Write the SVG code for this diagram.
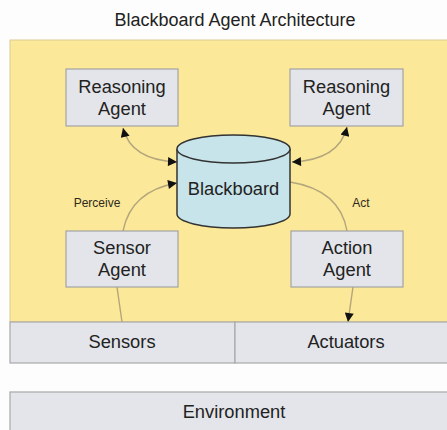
<svg xmlns="http://www.w3.org/2000/svg" width="447" height="430" viewBox="0 0 447 430">
  <style>
    text { font-family: "Liberation Sans", Arial, sans-serif; fill: #222; text-anchor: middle; }
    .lbl { font-size: 18.3px; }
    .small { font-size: 12px; fill: #2e2a1c; }
    .box { fill: #e3e5ea; stroke: #a3a3a3; stroke-width: 1.2; }
    .bar { fill: #e3e5ea; stroke: #a8a8a8; stroke-width: 1.2; }
    .conn { fill: none; stroke: #b3a57c; stroke-width: 1.4; }
    .cyl { fill: #c6e4ea; stroke: #333; stroke-width: 1.5; }
  </style>
  <defs>
    <marker id="ah" viewBox="0 0 10 10" refX="10" refY="5" markerWidth="10" markerHeight="9" markerUnits="userSpaceOnUse" orient="auto-start-reverse">
      <path d="M0,0 L10,5 L0,10 Z" fill="#111"/>
    </marker>
  </defs>
  <rect x="0" y="0" width="447" height="430" fill="#fdfdfd"/>
  <text id="title" x="235" y="26" style="font-size:18px">Blackboard Agent Architecture</text>
  <rect id="agent-area" x="10" y="40" width="440" height="282" fill="#fbe898" stroke="#d9cc93" stroke-width="1"/>

  <g id="connectors">
    <path class="conn" d="M123,128 Q131,160 177,162" marker-start="url(#ah)" marker-end="url(#ah)"/>
    <path class="conn" d="M347,127 Q339,160 292,162" marker-start="url(#ah)" marker-end="url(#ah)"/>
    <path class="conn" d="M123,231 Q131,191 177,183" marker-end="url(#ah)"/>
    <path class="conn" d="M122,322 L117,287"/>
    <path class="conn" d="M290,182 Q340,190 347,231"/>
    <path class="conn" d="M353,287 L348,322" marker-end="url(#ah)"/>
  </g>

  <g id="reasoning-agent-left">
    <rect class="box" x="66" y="69" width="112" height="57"/>
    <text class="lbl" x="122" y="93">Reasoning</text>
    <text class="lbl" x="122" y="115">Agent</text>
  </g>
  <g id="reasoning-agent-right">
    <rect class="box" x="290" y="69" width="113" height="57"/>
    <text class="lbl" x="346.5" y="93">Reasoning</text>
    <text class="lbl" x="346.5" y="115">Agent</text>
  </g>
  <g id="blackboard">
    <path class="cyl" d="M177,149 L177,214 A56.5,14 0 0 0 290,214 L290,149 A56.5,14 0 0 0 177,149 Z"/>
    <path class="cyl" d="M177,149 A56.5,14 0 0 0 290,149" fill="none"/>
    <text class="lbl" x="233.5" y="195">Blackboard</text>
  </g>
  <g id="sensor-agent">
    <rect class="box" x="66" y="231" width="112" height="56"/>
    <text class="lbl" x="122" y="254">Sensor</text>
    <text class="lbl" x="122" y="276">Agent</text>
  </g>
  <g id="action-agent">
    <rect class="box" x="291" y="231" width="112" height="56"/>
    <text class="lbl" x="347" y="254">Action</text>
    <text class="lbl" x="347" y="276">Agent</text>
  </g>
  <text class="small" x="97" y="207">Perceive</text>
  <text class="small" x="361" y="207">Act</text>

  <g id="sensors">
    <rect class="bar" x="10" y="322" width="225" height="41"/>
    <text class="lbl" x="122" y="348">Sensors</text>
  </g>
  <g id="actuators">
    <rect class="bar" x="235" y="322" width="215" height="41"/>
    <text class="lbl" x="346" y="348">Actuators</text>
  </g>
  <g id="environment">
    <rect class="bar" x="10" y="392" width="440" height="40"/>
    <text class="lbl" x="234" y="418">Environment</text>
  </g>
</svg>
